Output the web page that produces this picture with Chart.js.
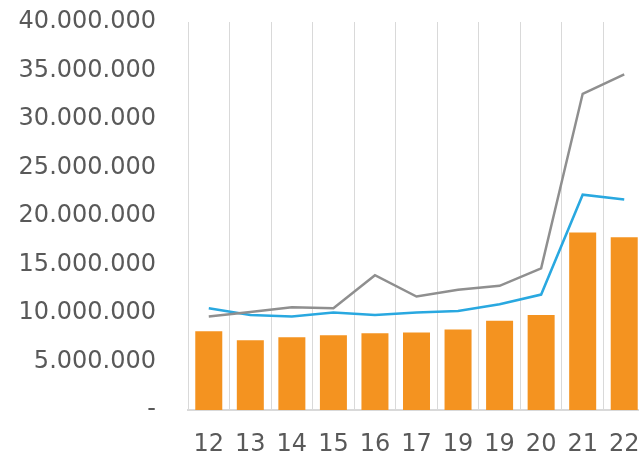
<!DOCTYPE html>
<html>
<head>
<meta charset="utf-8">
<script src="https://cdn.jsdelivr.net/npm/chart.js@4/dist/chart.umd.min.js"></script>
<style>
  html, body { margin: 0; padding: 0; overflow: hidden; background: #fff; }
  #chart { display: block; }
</style>
</head>
<body>
<canvas id="chart" width="645" height="454"></canvas>
<script>
// categories as shown on the axis (19 appears twice in the source)
const labels = ["12", "13", "14", "15", "16", "17", "19", "19", "20", "21", "22"];

// orange bars
const barValues = [8130000, 7200000, 7500000, 7700000, 7900000, 8000000, 8300000, 9200000, 9800000, 18300000, 17800000];
// grey line
const greyValues = [9650000, 10100000, 10600000, 10500000, 13900000, 11700000, 12400000, 12800000, 14600000, 32600000, 34600000];
// blue line
const blueValues = [10500000, 9800000, 9650000, 10050000, 9800000, 10050000, 10200000, 10900000, 11900000, 22200000, 21700000];

const yMax = 40000000;
const yStep = 5000000;

function formatTick(value) {
  if (value === 0) return "-";
  return value.toString().replace(/\B(?=(\d{3})+(?!\d))/g, "."); // dot thousands
}

const ctx = document.getElementById("chart").getContext("2d");
new Chart(ctx, {
  type: "bar",
  data: {
    labels: labels,
    datasets: [
      { type: "line", data: greyValues, borderColor: "#8f8f8f", borderWidth: 2.5, pointRadius: 0, tension: 0 },
      { type: "line", data: blueValues, borderColor: "#29a8e0", borderWidth: 2.5, pointRadius: 0, tension: 0 },
      { type: "bar", data: barValues, backgroundColor: "#f49320", barPercentage: 0.65, categoryPercentage: 1 },
    ],
  },
  options: {
    responsive: false,
    animation: false,
    devicePixelRatio: 1,
    layout: { padding: { top: 22, left: 0, right: 0, bottom: 0 } },
    plugins: { legend: { display: false }, tooltip: { enabled: false } },
    scales: {
      x: {
        // tick marks kept for spacing only, drawn invisible
        grid: { color: "#d9d9d9", lineWidth: 1, drawTicks: true, tickLength: 20, tickColor: "rgba(0,0,0,0)", offset: true },
        border: { color: "#d9d9d9", width: 2 },
        ticks: { color: "#595959", font: { family: "DejaVu Sans", size: 24 }, padding: 0, maxRotation: 0, autoSkip: false },
        afterFit: (scale) => { scale.height = 44; },
      },
      y: {
        min: 0,
        max: yMax,
        grid: { display: false, drawTicks: true, tickLength: 32 },
        border: { display: false },
        ticks: { stepSize: yStep, color: "#595959", font: { family: "DejaVu Sans", size: 24 }, padding: 0, callback: (v) => formatTick(v) },
        afterFit: (scale) => { scale.width = 188; },
      },
    },
  },
});
</script>
</body>
</html>
